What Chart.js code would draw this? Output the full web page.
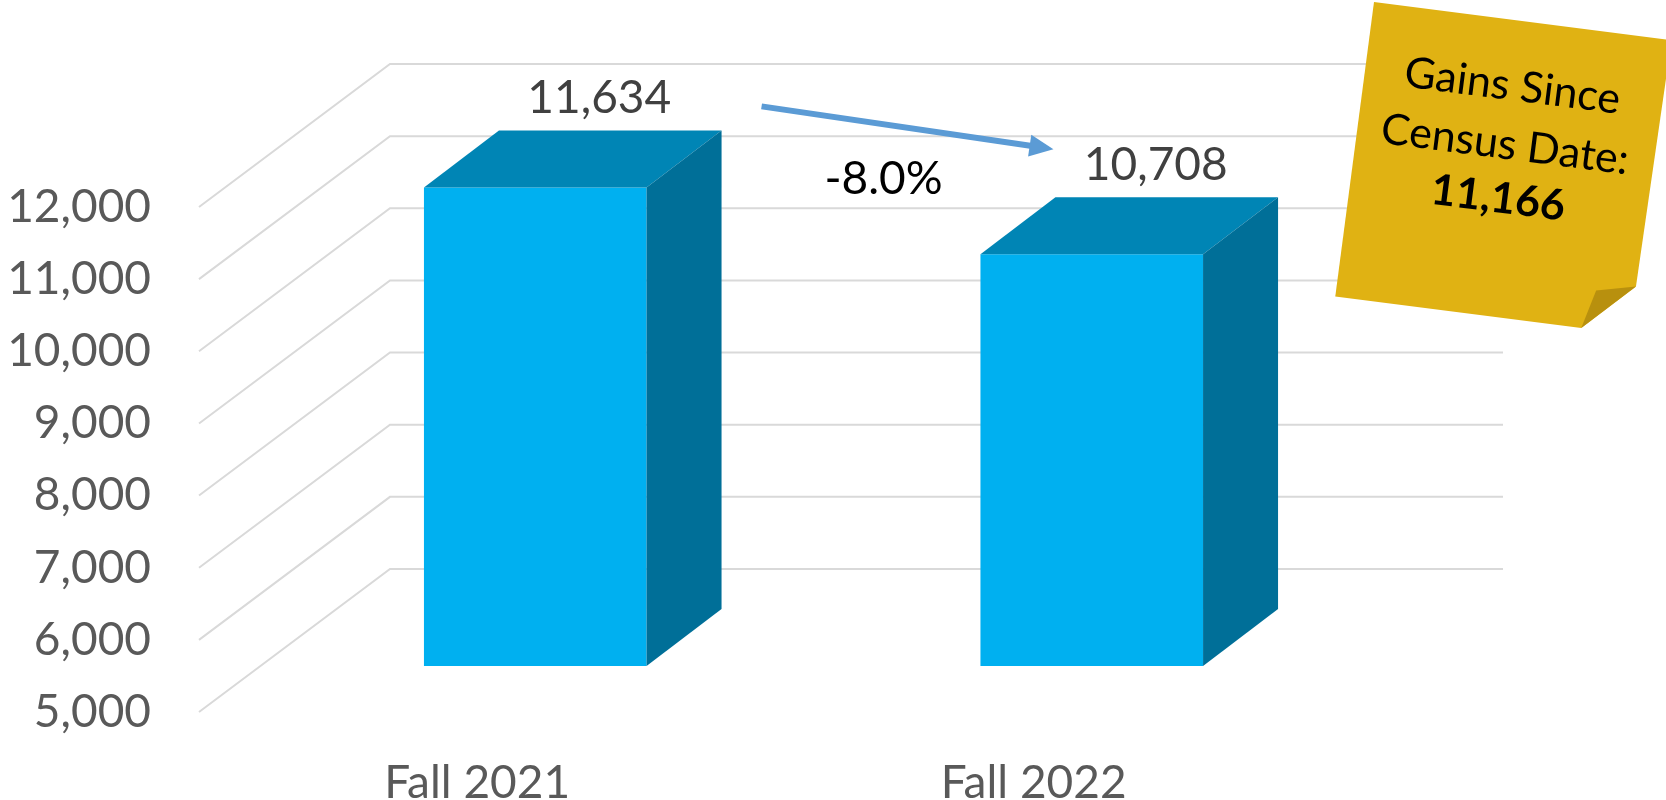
<!DOCTYPE html>
<html>
<head>
<meta charset="utf-8">
<script src="https://cdn.jsdelivr.net/npm/chart.js@4.4.0/dist/chart.umd.min.js"></script>
<style>
html,body{margin:0;padding:0;background:#fff}
#wrap{width:1666px;height:800px;position:relative}
</style>
</head>
<body>
<div id="wrap"><canvas id="c"></canvas></div>
<script>
const categories=['Fall 2021','Fall 2022'];
const headcount=[11634,10708];
const yTicks=[5000,6000,7000,8000,9000,10000,11000,12000];
const changeLabel='-8.0%';
const noteLines=['Gains Since','Census Date:'];
const noteValue=11166;

const FONT='Lato, "Open Sans", sans-serif';
// oblique offsets in px: back wall, bar front plane, bar depth
const WALL={x:191,y:-143}, FRONT={x:58,y:-46}, DEPTH={x:75,y:-57};
const fmt=v=>v.toLocaleString('en-US');

const box3d={
  id:'box3d',
  beforeDatasetsDraw(chart){
    const {ctx,chartArea:a,scales:{y}}=chart;
    ctx.save();
    ctx.strokeStyle='#d9d9d9';
    ctx.lineWidth=2;
    yTicks.forEach(v=>{
      const py=y.getPixelForValue(v);
      ctx.beginPath();
      ctx.moveTo(a.left,py);
      ctx.lineTo(a.left+WALL.x,py+WALL.y);
      ctx.lineTo(a.right+WALL.x,py+WALL.y);
      ctx.stroke();
    });
    ctx.restore();
    // front faces are drawn by chart.js, pushed back into the box
    ctx.save();
    ctx.translate(FRONT.x,FRONT.y);
  },
  afterDatasetsDraw(chart){
    const {ctx,chartArea:a}=chart;
    ctx.restore();
    const bars=chart.getDatasetMeta(0).data.map(el=>{
      const p=el.getProps(['x','y','base','width'],true);
      const base=Math.min(p.base,a.bottom);
      return {l:p.x-p.width/2+FRONT.x, r:p.x+p.width/2+FRONT.x, t:p.y+FRONT.y, b:base+FRONT.y, x:p.x};
    });
    ctx.save();
    bars.forEach((b,i)=>{
      // top
      ctx.fillStyle='#0085b5';
      ctx.beginPath();
      ctx.moveTo(b.l,b.t);ctx.lineTo(b.r,b.t);
      ctx.lineTo(b.r+DEPTH.x,b.t+DEPTH.y);ctx.lineTo(b.l+DEPTH.x,b.t+DEPTH.y);
      ctx.closePath();ctx.fill();
      // side
      ctx.fillStyle='#006f98';
      ctx.beginPath();
      ctx.moveTo(b.r,b.t);ctx.lineTo(b.r+DEPTH.x,b.t+DEPTH.y);
      ctx.lineTo(b.r+DEPTH.x,b.b+DEPTH.y);ctx.lineTo(b.r,b.b);
      ctx.closePath();ctx.fill();
      // value label
      ctx.fillStyle='#404040';
      ctx.font='46px '+FONT;
      ctx.textAlign='center';
      ctx.textBaseline='middle';
      ctx.fillText(fmt(headcount[i]),b.x+122,b.t+DEPTH.y-32);
    });

    // change arrow
    const b0=bars[0], b1=bars[1];
    const sx=b0.r+DEPTH.x+40, sy=b0.t+DEPTH.y-24;
    const ex=b1.l+DEPTH.x-2, ey=b1.t+DEPTH.y-48;
    const ang=Math.atan2(ey-sy,ex-sx);
    ctx.strokeStyle='#5b9bd5';ctx.fillStyle='#5b9bd5';
    ctx.lineWidth=6;
    ctx.beginPath();
    ctx.moveTo(sx,sy);
    ctx.lineTo(ex-20*Math.cos(ang),ey-20*Math.sin(ang));
    ctx.stroke();
    ctx.beginPath();
    ctx.moveTo(ex,ey);
    ctx.lineTo(ex-24*Math.cos(ang)+11*Math.sin(ang),ey-24*Math.sin(ang)-11*Math.cos(ang));
    ctx.lineTo(ex-24*Math.cos(ang)-11*Math.sin(ang),ey-24*Math.sin(ang)+11*Math.cos(ang));
    ctx.closePath();ctx.fill();

    ctx.fillStyle='#000';
    ctx.font='46px '+FONT;
    ctx.textAlign='center';ctx.textBaseline='middle';
    ctx.fillText(changeLabel,(sx+ex)/2-24,(sy+ey)/2+51);

    // sticky note
    ctx.translate(1374,2);
    ctx.rotate(7.3*Math.PI/180);
    ctx.fillStyle='#e0b213';
    ctx.beginPath();
    ctx.moveTo(0,0);ctx.lineTo(300,0);ctx.lineTo(296,249);
    ctx.lineTo(247,297);ctx.lineTo(-1,297);
    ctx.closePath();ctx.fill();
    ctx.fillStyle='#b8900e';
    ctx.beginPath();
    ctx.moveTo(247,297);ctx.lineTo(296,249);ctx.lineTo(257,258);
    ctx.closePath();ctx.fill();
    ctx.fillStyle='#000';
    ctx.textAlign='center';ctx.textBaseline='middle';
    ctx.font='43px '+FONT;
    ctx.fillText(noteLines[0],148,66);
    ctx.fillText(noteLines[1],148,125);
    ctx.font='bold 43px '+FONT;
    ctx.fillText(fmt(noteValue),148,179);
    ctx.restore();
  }
};

new Chart(document.getElementById('c'),{
  type:'bar',
  data:{
    labels:categories,
    datasets:[{data:headcount,backgroundColor:'#00b0f0',borderWidth:0,
      barPercentage:0.5,categoryPercentage:0.8}]
  },
  options:{
    responsive:true,maintainAspectRatio:false,animation:false,
    layout:{padding:{top:207,right:354,left:0,bottom:0}},
    plugins:{legend:{display:false},tooltip:{enabled:false}},
    scales:{
      x:{
        grid:{display:false},border:{display:false},
        ticks:{color:'#595959',font:{family:FONT,size:46},padding:36},
        afterFit(s){s.height=88;}
      },
      y:{
        min:5000,max:12000,
        grid:{display:false},border:{display:false},
        afterBuildTicks(s){s.ticks=yTicks.map(v=>({value:v}));},
        ticks:{color:'#595959',font:{family:FONT,size:46},padding:40,callback:v=>fmt(v)},
        afterFit(s){s.width=199;}
      }
    }
  },
  plugins:[box3d]
});
</script>
</body>
</html>
